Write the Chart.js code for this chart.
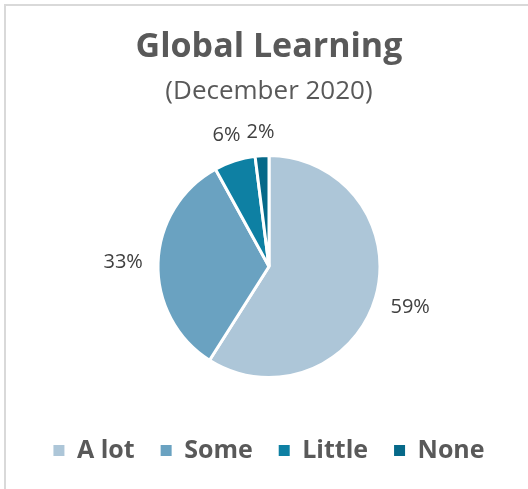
<!DOCTYPE html>
<html>
<head>
<meta charset="utf-8">
<title>Global Learning</title>
<script src="https://cdn.jsdelivr.net/npm/chart.js@4"></script>
<style>
html,body{margin:0;padding:0;background:#fff;overflow:hidden}
#frame{position:absolute;left:4px;top:4px;width:600px;height:600px;border-top:2px solid #d9d9d9;border-left:2px solid #d9d9d9}
#chart{position:absolute;left:0;top:0}
</style>
</head>
<body>
<div id="frame"></div>
<canvas id="chart" width="528" height="489"></canvas>
<script>
const categories=["A lot","Some","Little","None"]
const shares=[59,33,6,2]
const colors=["#adc6d8","#6aa2c1","#0e80a3","#066989"]

// percent labels sitting just outside each slice
const outsideLabels={
id:"outsideLabels",
afterDatasetsDraw(chart){
let ctx=chart.ctx
let arcs=chart.getDatasetMeta(0).data
ctx.save()
ctx.font="20px 'Open Sans'"
ctx.fillStyle="#404040"
ctx.textAlign="center"
ctx.textBaseline="middle"
arcs.forEach((arc,i)=>{
let p=arc.getProps(["x","y","startAngle","endAngle","outerRadius"],true)
let mid=(p.startAngle+p.endAngle)/2
let txt=shares[i]+"%"
let w=ctx.measureText(txt).width
let h=15
let dx=Math.cos(mid),dy=Math.sin(mid)
let d=p.outerRadius+15+w/2*Math.abs(dx)+h/2*Math.abs(dy)
ctx.fillText(txt,p.x+dx*d,p.y+dy*d)
})
ctx.restore()
}
}

new Chart(document.getElementById("chart"),{
type:"pie",
data:{
labels:categories,
datasets:[{
data:shares,
backgroundColor:colors,
borderColor:"#ffffff",
borderWidth:3,
radius:111
}]
},
options:{
responsive:false,
animation:false,
layout:{padding:{left:10,bottom:16}},
plugins:{
title:{
display:true,
text:"Global Learning",
color:"#595959",
font:{family:"'Open Sans'",size:34,weight:"bold",lineHeight:1.2},
padding:{top:27,bottom:0}
},
subtitle:{
display:true,
text:"(December 2020)",
color:"#595959",
font:{family:"'Open Sans'",size:26,lineHeight:1.2},
padding:{top:8,bottom:14}
},
legend:{
position:"bottom",
labels:{
color:"#595959",
font:{family:"'Open Sans'",size:25,weight:"bold"},
boxWidth:11,
boxHeight:11,
padding:26,
generateLabels(chart){
return Chart.overrides.pie.plugins.legend.labels.generateLabels(chart).map(l=>({...l,lineWidth:0}))
}
}
},
tooltip:{enabled:false}
}
},
plugins:[outsideLabels]
})
</script>
</body>
</html>
